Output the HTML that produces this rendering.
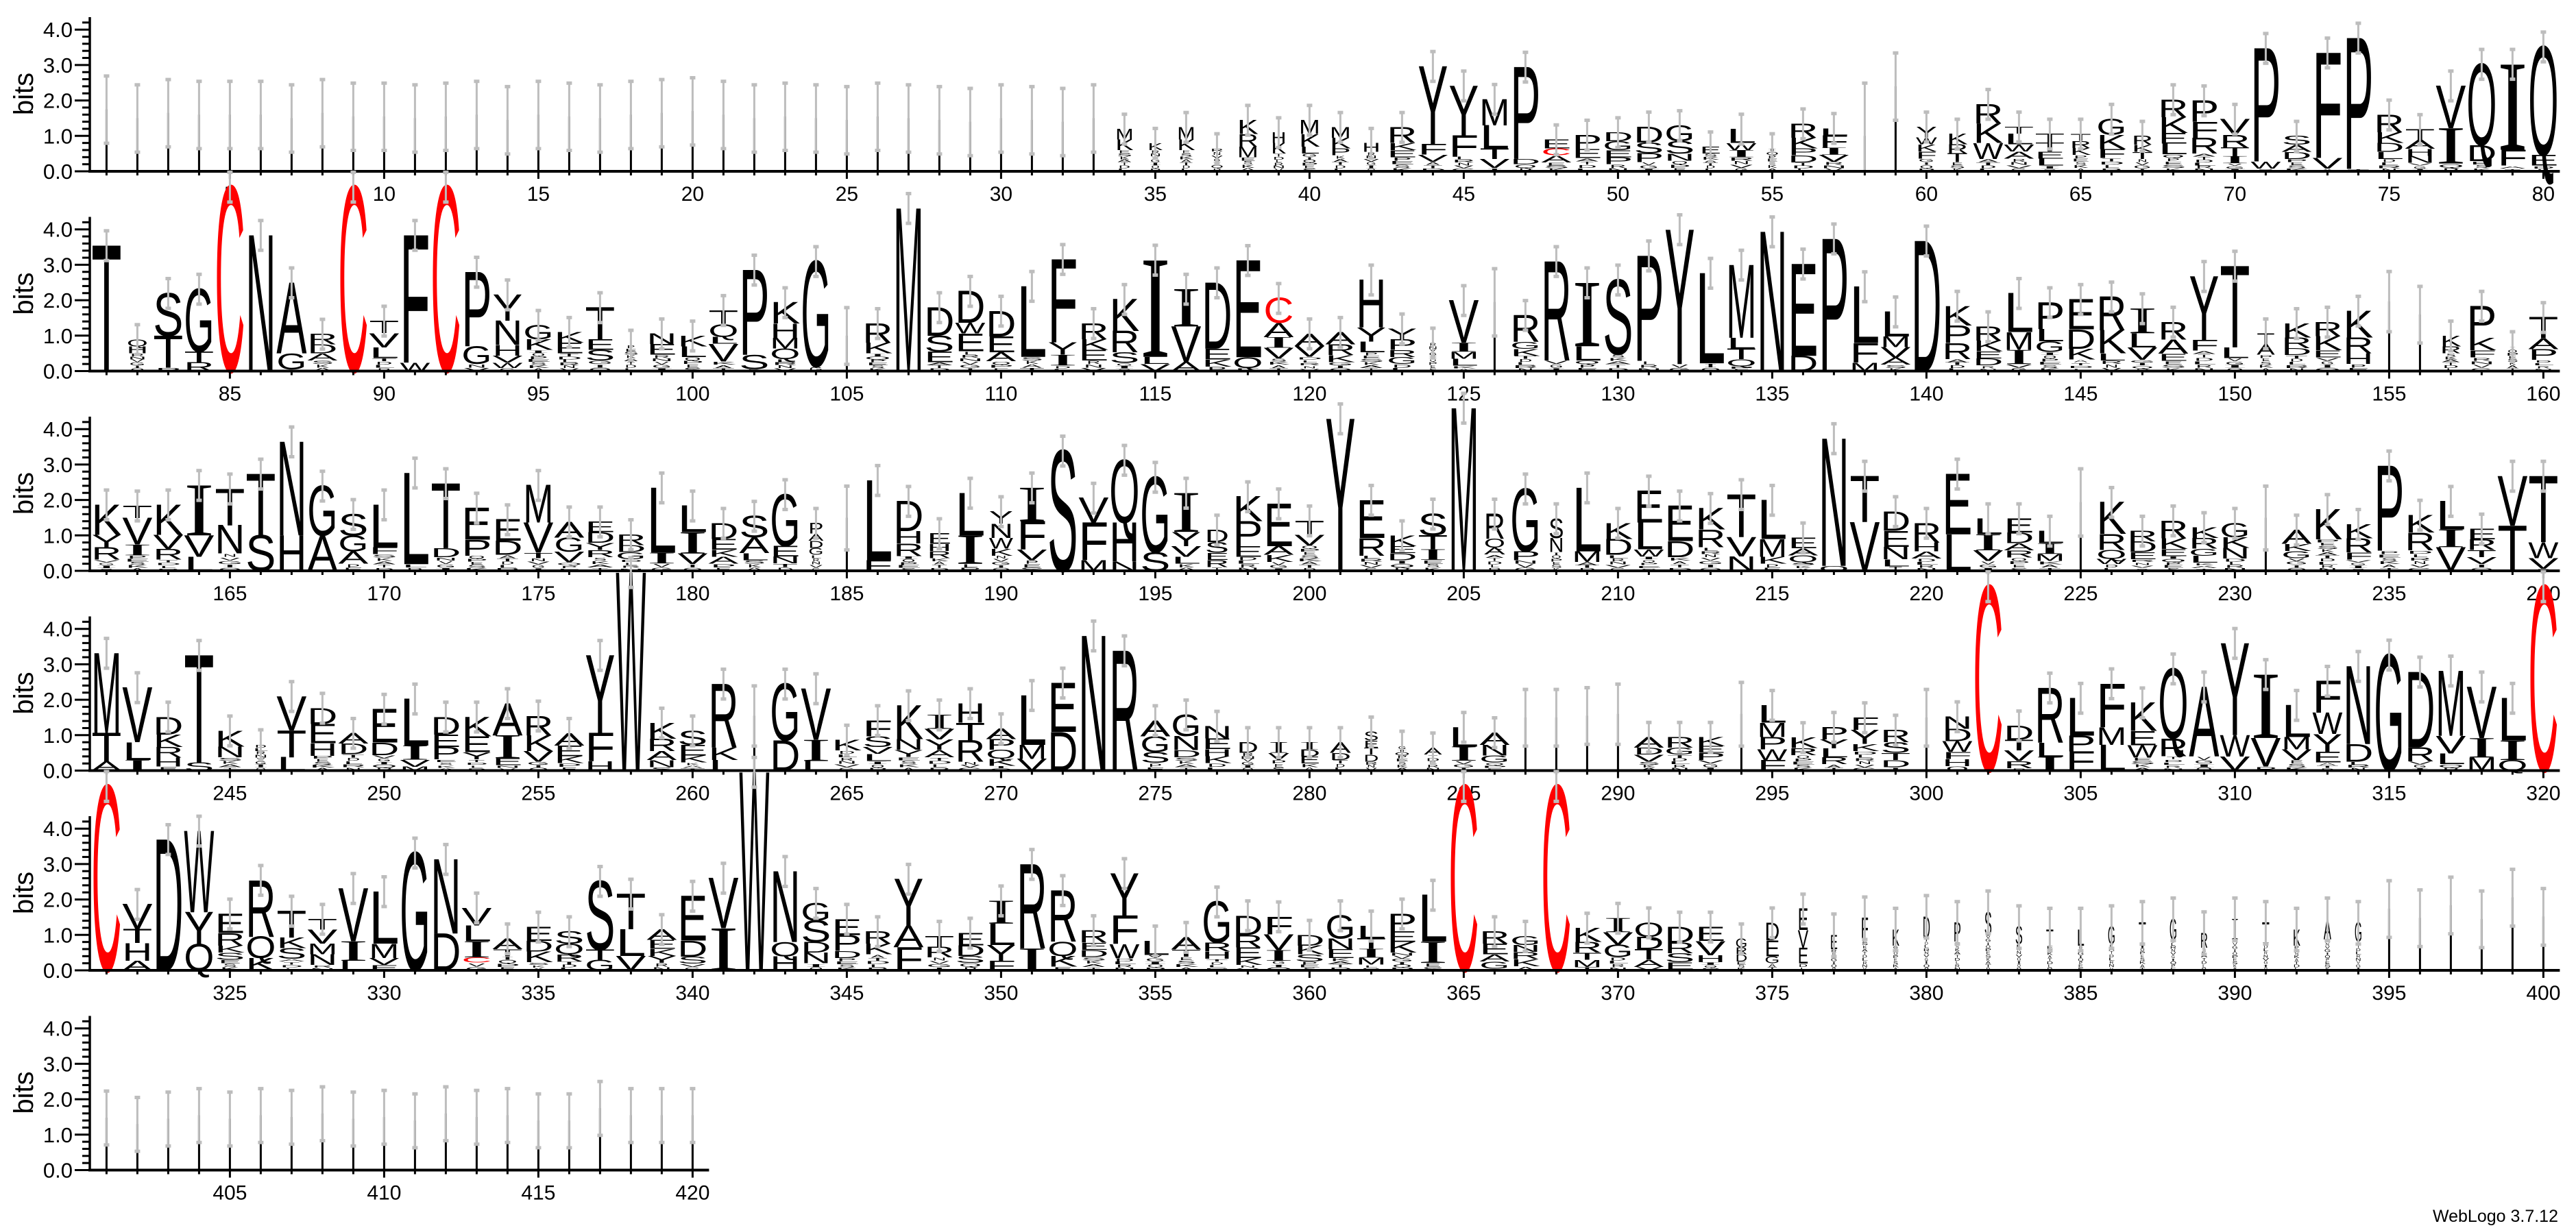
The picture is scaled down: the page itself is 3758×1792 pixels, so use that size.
<!DOCTYPE html>
<html><head><meta charset="utf-8">
<style>
html,body{margin:0;padding:0;background:#fff;}
svg{display:block;}
text{font-family:"Liberation Sans",sans-serif;}
</style></head>
<body>
<svg id="s" xmlns="http://www.w3.org/2000/svg" width="3758" height="1792" viewBox="0 0 3758 1792"></svg>
<script>
const BIT=51.7,X0=155.4,DX=45;
const R=[[],[],[],[],[],[]];
const th1=[1.75,1.5,1.65,1.6,1.6,1.6,1.5,1.65,1.55,1.55,1.5,1.55,1.6,1.45,1.6,1.55,1.5,1.6,1.65,1.7,1.6,1.5,1.55,1.5,1.45,1.55,1.5,1.45,1.4,1.5,1.45,1.4,1.5];
th1.forEach(h=>R[0].push("|"+h+" e.95"));
R[0].push(...["w.6 M.3 K.3 *.6","w.5 K.2 *.6","w.6 M.35 K.3 *.6","w.5 *.65","w.7 K.4 R.35 M.3 *.4","w.5 H.3 K.3 *.5","w.7 M.4 K.35 L.2 *.5","w.7 M.3 K.3 P.2 *.45","w.6 H.25 *.55","R.45 K.2 E.2 *.4",
"Y2.2 F.3 V.2 *.27","Y1.4 F.6 *.42","M.74 L.65 T.3 V.25 *.1","P2.6 D.15 *.2","E.25 C.2 A.2 *.25","P.4 E.25 *.38","D.25 G.25 E.2 P.2 *.2","D.45 S.3 P.25 *.26","G.45 S.35 N.2 *.3","w.7 E.2 *.5",
"L.4 W.2 I.2 *.4","w.5 *.65","R.4 K.3 P.2 D.2 *.25","L.2 F.35 I.2 V.2 *.27","|1.0 e1.5","|2.4 e.95","w.7 Y.3 W.2 K.2 F.2 *.36","w.7 K.3 R.25 T.25 *.26","R.55 K.55 W.45 *.35","T.2 L.3 W.2 A.2 *.36",
"T.25 T.25 E.2 L.2 *.16","w.7 T.2 R.2 K.2 *.46","G.45 K.4 F.25 *.38","w.7 R.25 K.2 T.2 *.35","R.5 K.45 E.3 L.3 *.48","P.6 F.45 R.45 *.5","V.45 R.35 T.25 I.2 *.23","P3.2 W.2 *.08","S.25 A.2 D.2 *.35","F2.97 V.3 *.08",
"P3.7 *.07","R.5 K.3 D.25 L.2 *.35","T.3 A.25 H.2 N.2 *.24","V1.2 I1.0 *.22","Q2.29 D.45 *.29","I2.42 F.45 *.16","Q3.06 E.3 *.16"]);
R[1]=["T3.55","w.7 Q.2 H.2 *.5","S1.2 T.9 *.1","G1.77 T.3 R.25","C5.2","N3.84","A2.0 G.45 *.05","R.3 D.25 A.2 *.3","C5.2","T.35 V.4 L.3 *.37",
"F3.6 W.24","C5.2","P2.1 G.5 *.2","Y.74 N.68 H.3 V.2 W.15 *.09","G.4 K.3 *.6","K.3 E.3 *.5","T.9 E.3 S.3 *.3","w.6 *.74","N.3 E.3 *.46","K.3 L.3 *.4",
"T.4 Q.35 L.2 V.5 *.27","P2.4 S.4 *.06","K.6 H.4 M.3 Q.3 *.34","G2.97 *.13","|1.0 e.8","R.55 K.3 *.5","M4.6","D.8 S.45 E.3 *.25","D.9 W.3 E.5 *.56","D.72 E.45 A.25 *.28",
"L2.0 *.4","F2.35 Y.35 I.3 *.16","R.45 K.3 E.3 *.3","K.9 R.6 S.3 *.23","I2.74 L.2 V.2","I1.06 V1.0 A.26","D1.87 E.3 K.2 *.13","E2.74 Q.3 *.09","C.7 A.4 I.3 V.3 *.36","A.35 V.3 *.41",
"A.35 R.3 K.2 *.25","H1.35 Y.4 L.3 *.53","Y.3 P.3 R.2 G.2 *.2","w.4 *.8","V1.2 I.25 M.2 L.2 *.15","|1.95 e.95","R.75 G.2 K.2 *.43","R2.8 *.3","I1.8 L.4 *.3","S2.1 *.48",
"P2.97 *.29","Y3.8 *.2","L2.55 *.22","M2.06 L.3 T.3 Q.2 *.14","N3.94","E2.6 D.43","P3.74","L1.6 F.55 M.24","L.7 M.3 V.3 A.2 *.18","D3.68",
"K.55 P.5 R.45 *.34","R.4 K.3 E.2 D.2 *.16","L1.1 M.5 I.4 *.2","P.75 L.35 G.3 *.54","E.85 D.55 K.3 *.33","R.95 K.65 L.2 *.3","I.7 L.4 V.35 *.32","R.5 A.4 E.2 *.29","Y1.8 F.3 *.58","T2.3 L.3 *.37",
"w.6 T.3 A.3 *.46","K.4 R.3 D.2 *.45","R.4 K.4 E.2 *.39","K.75 R.45 H.3 *.2","|1.97 e.85","|1.6 e.8","w.7 K.3 R.2 *.5","P.9 K.35 F.2 *.39","w.5 *.7","T.6 A.3 P.3 *.32"];
R[2]=["K.85 Y.35 R.35 *.32","T.35 V.75 I.3 *.44","K.85 V.4 R.3 *.32","I1.42 V.6 L.4","T1.03 N.8 *.49","T1.74 S1.0","N2.65 H1.0","G1.4 A1.0","S.6 G.45 A.35 *.2","L1.2 F.2 *.47",
"L2.58 *.19","T1.83 D.25 *.39","E.9 P.45 *.43","E.6 D.4 *.45","M1.06 V.85 T.15 *.36","A.45 G.4 V.3 *.24","E.3 D.3 Y.2 R.2 *.39","R.3 D.2 G.2 *.33","L1.84 I.3 *.21","L.75 I.6 V.3 *.19",
"D.45 E.3 K.2 A.2 *.2","S.6 A.45 L.2 *.3","G1.45 E.3 N.2 *.21","w.5 P.3 A.2 D.2 G.2 *.45","|1.5 e.9","L2.26 F.3","D.85 H.35 R.35 *.42","w.8 E.3 H.2 R.2 *.36","L1.2 I.8 *.2","w.8 Y.35 N.4 W.3 K.2 *.43",
"I.95 F.8 V.3 *.3","S3.39","V.7 F1.06 M.3","Q1.77 H1.1 N.26","G2.13 S.52","I1.1 Y.4 V.3 L.2 *.2","w.8 D.35 S.3 E.2 R.2 *.11","K.7 P.7 E.3 *.4","E1.2 A.25 K.2 *.25","T.4 V.3 *.72",
"Y4.3","E1.07 R.5 *.43","K.3 E.2 D.2 *.3","S.6 T.4 I.3 *.31","M4.6","w.7 R.7 Q.25 A.2 *.46","G1.77 P.25 *.3","w.5 S.55 N.4 *.53","L1.8 M.3 *.25","K.45 D.45 *.45",
"E.9 L.75 W.2 *.41","E1.0 D.45 *.39","K.6 R.5 *.67","T1.2 V.55 N.41","L1.1 M.5 K.2 *.2","E.3 A.2 Q.2 *.24","N3.6 Q.14","T1.3 V1.38","D.55 E.45 N.35 L.2 *.13","R.55 H.25 A.2 *.35",
"E1.71 L1.03","L.45 I.45 V.3 *.28","E.4 D.3 A.2 R.2 *.38","L.35 I.3 M.2 *.28","|1.94 e.95","K.9 R.45 Q.25 W.15 *.19","R.3 D.3 E.2 *.33","R.5 K.3 E.2 *.42","K.3 R.3 G.2 L.2 *.23","G.4 K.3 N.3 *.35",
"|1.5 e.9","A.4 K.2 G.2 *.36","K.85 *.89","K.4 R.4 F.2 *.32","P2.4 *.57","K.5 R.5 *.58","L.8 I.5 V.67","E.3 R.3 T.2 V.2 *.19","V1.4 T1.28","T1.87 W.45 V.3 *.06"];
R[3]=["M2.26 T.8 A.26","V1.55 L.5 I.3","D.5 K.35 R.3 H.25 *.12","T3.03 S.23","K.45 N.3 *.38","w.6 *.74","V.97 T.75 L.38","D.45 E.55 H.35 *.42","A.3 D.3 *.46","E.95 D.35 *.44",
"L1.32 I.4 V.2 M.11","D.5 E.35 P.35 *.32","K.55 E.45 Y.2 *.32","A.9 I.65 E.2 *.15","R.55 K.45 V.3 *.25","A.35 E.3 K.2 *.21","Y2.2 F.8 H.26","W5.6","K.45 R.35 A.25 N.2 *.1","S.4 E.3 K.2 *.23",
"R1.8 K.35 L.3","|1.55 e.85","G1.6 D.85","V1.45 I.6 L.27","K.3 *.57","F.45 S.3 V.2 L.2 *.27","K.95 N.3 Y.2 *.39","I.4 V.3 Y.3 A.2 *.38","H.55 T.5 R.6 *.25","A.3 P.3 Q.25 K.2 *.14",
"L1.4 M.4 V.33","E1.39 D1.09","N3.81","R3.39","A.45 G.45 S.3 *.22","G.6 N.4 D.2 *.38","N.35 E.3 H.2 K.2 *.21","w.7 D.3 *.5","w.7 I.3 V.2 *.3","w.7 I.2 D.2 E.2 *.2",
"w.7 A.3 D.2 *.3","w.5 S.25 E.2 T.2 D.2 *.25","w.6 *.7","w.6 A.2 *.45","L.55 I.4 *.28","A.35 N.3 G.2 *.23","|1.5 e.8","|1.5 e.8","|1.55 e.8","|1.6 e.85",
"A.3 D.2 V.2 *.25","R.3 G.2 *.45","K.25 E.2 P.2 *.3","|1.6 e.9","L.5 M.4 P.35 W.3 F.3","K.3 R.2 *.44","P.35 Y.25 L.25 R.2 *.18","F.35 Y.4 K.2 *.55","R.35 S.3 T.2 D.2 *.1","|1.5 e.8",
"N.35 D.35 W.3 F.2 H.2 *.13","C5.2","D.4 T.3 V.3 R.2 *.07","R1.55 L.4 I.39","L1.06 P.45 F.54","F1.23 M.5 L.73","K.8 E.4 W.35 *.37","Q1.97 R.5 *.41","A1.97 *.4","Y2.6 W.6 V.4",
"I1.8 V.8 *.12","L.9 M.35 V.3 *.3","F.9 W.6 Y.5 E.3 *.23","N2.2 D.5 *.25","G3.27","D2.13 R.4 *.26","M1.84 V.5 L.3 *.18","V1.45 I.55 M.37","L1.2 I.55 Q.3","C5.2"];
R[4]=["C5.2","V.7 T.4 H.5 A.27","D3.7","W2.3 Y.9 Q.74","E.55 R.35 K.2 S.2 *.3","R1.6 Q.6 K.35","T.75 K.3 S.3 *.33","T.3 V.4 M.3 N.3 *.15","V1.5 I.55 L.27","L1.48 M.4 V.2 E.15",
"G3.32","N2.1 D1.04","V.5 L.45 I.45 C.15 *.22","A.3 T.2 *.4","E.4 D.3 K.3 *.23","S.35 Q.3 R.2 *.25","S1.93 T.3 G.29","T1.0 L.75 V.41","A.3 E.25 K.2 Y.2 *.21","E1.26 D.45 S.2 *.19",
"V1.42 I1.19","W5.6","N2.0 Q.4 H.4","G.5 S.6 D.3 N.3 *.2","E.45 P.45 D.2 *.35","R.35 K.3 *.45","Y1.32 A.6 F.66","T.3 R.3 *.37","E.35 D.3 S.2 *.21","I.65 L.6 Y.45 F.27",
"R2.38 I.62","R1.45 Q.4 K.3 *.11","R.35 E.2 D.2 *.38","Y1.2 F.8 W.4 *.34","L.4 *.44","A.35 T.2 *.39","G1.16 R.25 H.2 *.33","D.55 R.35 E.3 K.2 *.15","F.5 V.45 I.3 *.27","D.3 K.25 S.2 *.25",
"G.65 N.3 E.25 *.35","L.35 T.3 I.25 M.2 *.16","P.5 E.3 K.3 *.5","L1.32 I.6 *.21","C5.2","R.35 E.3 A.2 G.2 *.05","G.25 N.2 R.2 K.2 *.12","C5.2","K.4 R.3 T.2 M.2 *.1","I.4 V.35 G.35 *.38",
"Q.4 D.35 T.3 A.2 *.1","D.45 R.3 S.25 E.2 *.03","E.4 V.4 H.2 *.23","w.4 G.25 R.2 D.2 *.25","w.5 D.5 E.45 G.2 *.2","w.35 E.6 V.5 E.45 *.19"];
const nh=[1.0,1.48,1.16,1.52,1.35,1.65,1.23,1.16,1.16,1.23,1.35,1.45,1.06,1.45,1.35,1.16,1.45,1.35,1.74,1.48,1.84,1.45,2.06,1.52];
const nl="EFKDPSSTLGTGRITKAGSLVDII";
nh.forEach((h,k)=>{ if(k<18) R[4].push("w.25 "+nl[k]+(h*0.4).toFixed(2)+" *"+(h*0.6).toFixed(2)+" e.6"); else R[4].push("|"+h+" e.8");});
[1.48,1.3,1.45,1.55,1.45,1.55,1.5,1.6,1.45,1.5,1.4,1.6,1.5,1.55,1.4,1.4,1.75,1.55,1.55,1.55].forEach(h=>R[5].push("|"+h+" e.76"));

let s='';
const CL="ESKATDLRNVGIQP";
let cc=0;
function letter(ch,x,yb,w,h){
  if(h<0.6) return;
  const serif = ch==='I';
  const capH = serif?66:69;
  const col = ch==='C'?'#ff0000':'#000';
  s+=`<text transform="translate(${x.toFixed(1)},${yb.toFixed(1)}) scale(1,${(h/capH).toFixed(4)})" font-size="100" textLength="${w.toFixed(1)}" lengthAdjust="spacingAndGlyphs" fill="${col}"${serif?' style="font-family:\'Liberation Serif\',serif"':''}>${ch}</text>`;
}
for(let r=0;r<6;r++){
  const y0=250+291.5*r;
  R[r].forEach((spec,i)=>{
    const cx=X0+DX*i;
    const t=spec.split(' ');
    let wf=1,e=null,items=[],T=0,thin=false;
    t.forEach(k=>{
      const c=k[0],v=parseFloat(k.slice(1));
      if(c==='w') wf=v;
      else if(c==='e') e=v;
      else if(c==='|'){thin=true;items.push(['|',v]);T+=v;}
      else {items.push([c,v]);T+=v;}
    });
    const w=44*wf, left=cx-w/2;
    let y=y0-T*BIT;
    const top=y;
    items.forEach(([c,v])=>{
      const h=v*BIT;
      if(c==='|'){ s+=`<rect x="${(cx-1.5).toFixed(1)}" y="${y.toFixed(1)}" width="3" height="${h.toFixed(1)}" fill="#000"/>`; }
      else if(c==='*'){
        const n=Math.max(1,Math.round(v/0.09)); const hh=h/n;
        for(let j=0;j<n;j++){ const ch=CL[(cc++)%CL.length]; const ww=w*(0.45+0.4*((cc*7)%5)/4); letter(ch,cx-ww/2,y+hh*(j+1),ww,hh*0.8); }
      } else letter(c,left,y+h,w,h);
      y+=h;
    });
    if(e===null) e=thin?0.9:0.42;
    const a=top-e*BIT,b=Math.min(top+e*BIT,y0);
    s+=`<line x1="${cx.toFixed(1)}" y1="${a.toFixed(1)}" x2="${cx.toFixed(1)}" y2="${b.toFixed(1)}" stroke="#bdbdbd" stroke-width="3"/>`;
    s+=`<rect x="${(cx-4).toFixed(1)}" y="${(a-2).toFixed(1)}" width="8" height="5" fill="#bdbdbd"/>`;
    if(top+e*BIT<y0) s+=`<rect x="${(cx-4).toFixed(1)}" y="${(b-2).toFixed(1)}" width="8" height="5" fill="#bdbdbd"/>`;
  });
  const n=R[r].length;
  s+=`<line x1="131" y1="${y0-225}" x2="131" y2="${y0+2}" stroke="#000" stroke-width="3.5"/>`;
  for(let k=0;k<=21;k++){
    const yy=y0-k*0.2*BIT;
    if(k%5===0){ s+=`<line x1="109" y1="${yy}" x2="131" y2="${yy}" stroke="#000" stroke-width="3"/>`;
      s+=`<text x="106" y="${(yy+11).toFixed(1)}" font-size="31" text-anchor="end" fill="#000">${(k/5).toFixed(1)}</text>`; }
    else s+=`<line x1="120" y1="${yy}" x2="131" y2="${yy}" stroke="#000" stroke-width="3"/>`;
  }
  s+=`<text transform="translate(48,${y0-113}) rotate(-90)" font-size="40" text-anchor="middle" fill="#000">bits</text>`;
  const xe=X0+DX*(n-1)+24;
  s+=`<line x1="129" y1="${y0}" x2="${xe}" y2="${y0}" stroke="#000" stroke-width="4"/>`;
  for(let i=0;i<n;i++){
    const cx=X0+DX*i, num=r*80+i+1, maj=num%5===0;
    s+=`<line x1="${cx}" y1="${y0}" x2="${cx}" y2="${y0+(maj?11:6)}" stroke="#000" stroke-width="3"/>`;
    if(maj) s+=`<text x="${cx}" y="${y0+43}" font-size="30" text-anchor="middle" fill="#000">${num}</text>`;
  }
}
s+=`<text x="3732" y="1783" font-size="25" text-anchor="end" fill="#000">WebLogo 3.7.12</text>`;
document.getElementById('s').innerHTML=s;
</script>
</body></html>
